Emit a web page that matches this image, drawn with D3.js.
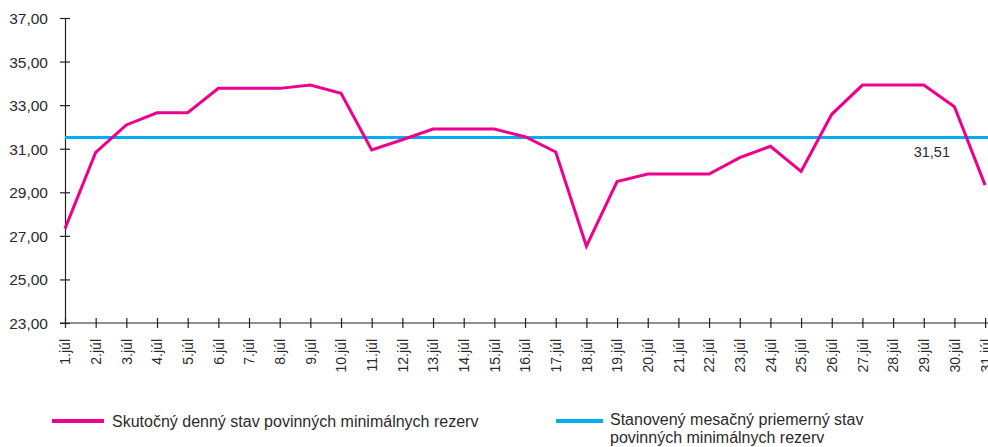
<!DOCTYPE html>
<html>
<head>
<meta charset="utf-8">
<script src="https://cdn.jsdelivr.net/npm/d3@7"></script>
<style>
  body { margin: 0; background: #fff; }
  svg text { font-family: "Liberation Sans", Arial, sans-serif; fill: #2b2b2b; }
</style>
</head>
<body>
<div id="chart"></div>
<script>
// days of July
const days = d3.range(1, 32).map(d => `${d}.júl`);

// actual daily state of minimum reserves
const actual = [
  27.33, 30.83, 32.09, 32.65, 32.65, 33.77, 33.77, 33.77, 33.92, 33.54,
  30.94, 31.41, 31.90, 31.90, 31.90, 31.55, 30.85, 26.53, 29.49, 29.84,
  29.84, 29.84, 30.59, 31.11, 29.96, 32.58, 33.92, 33.92, 33.92, 32.93,
  29.33
];

// required monthly average
const required = 31.51;

const yTicks = [23, 25, 27, 29, 31, 33, 35, 37];

const legendLabels = [
  ["Skutočný denný stav povinných minimálnych rezerv"],
  ["Stanovený mesačný priemerný stav", "povinných minimálnych rezerv"]
];

const colors = { actual: "#ec008c", required: "#00aeef" };

const W = 988, H = 447;
const margin = { top: 18, right: 3, bottom: 124, left: 65 };

const svg = d3.select("#chart").append("svg")
  .attr("width", W)
  .attr("height", H);

const x = d3.scalePoint()
  .domain(days)
  .range([margin.left, margin.left + 30 * 30.67]);

const y = d3.scaleLinear()
  .domain([23, 37])
  .range([H - margin.bottom, margin.top]);

const fmt = v => d3.format(".2f")(v).replace(".", ",");

// y axis
const yAxis = svg.append("g")
  .attr("transform", `translate(${margin.left},0)`)
  .call(d3.axisLeft(y).tickValues(yTicks).tickFormat(fmt).tickSizeInner(5).tickSizeOuter(0).tickPadding(12));
yAxis.select(".domain").attr("stroke", "#222").attr("stroke-width", 1.2);
yAxis.selectAll(".tick line").attr("x2", 5).attr("x1", -5).attr("stroke", "#222").attr("stroke-width", 1.2);
yAxis.selectAll(".tick text").attr("font-size", 15.5).attr("dy", "0.35em");

// x axis
const xAxis = svg.append("g")
  .attr("transform", `translate(0,${y(23)})`)
  .call(d3.axisBottom(x).tickSizeInner(5).tickSizeOuter(0));
xAxis.select(".domain").attr("d", `M${margin.left - 5},0H${W}`).attr("stroke", "#222").attr("stroke-width", 1.2);
xAxis.selectAll(".tick line").attr("y1", -5).attr("y2", 5).attr("stroke", "#222").attr("stroke-width", 1.2);
xAxis.selectAll(".tick text")
  .attr("font-size", 14)
  .attr("text-anchor", "end")
  .attr("transform", "rotate(-90)")
  .attr("x", -16)
  .attr("y", 0)
  .attr("dy", "0.35em");

// required level line
svg.append("line")
  .attr("x1", margin.left)
  .attr("x2", W)
  .attr("y1", y(required))
  .attr("y2", y(required))
  .attr("stroke", colors.required)
  .attr("stroke-width", 3);

svg.append("text")
  .attr("x", 950)
  .attr("y", y(required) + 19)
  .attr("text-anchor", "end")
  .attr("font-size", 14.5)
  .text(fmt(required));

// actual line
const line = d3.line()
  .x((d, i) => x(days[i]))
  .y(d => y(d));

svg.append("path")
  .datum(actual)
  .attr("fill", "none")
  .attr("stroke", colors.actual)
  .attr("stroke-width", 3)
  .attr("stroke-linejoin", "miter")
  .attr("d", line);

// legend
const legend = svg.append("g");
const l1 = legend.append("g").attr("transform", "translate(52,421)");
l1.append("line").attr("x1", 0).attr("x2", 52).attr("stroke", colors.actual).attr("stroke-width", 4);
l1.append("text").attr("x", 60).attr("y", 6).attr("font-size", 16).text(legendLabels[0][0]);

const l2 = legend.append("g").attr("transform", "translate(556,421)");
l2.append("line").attr("x1", 0).attr("x2", 47).attr("stroke", colors.required).attr("stroke-width", 4);
l2.selectAll("text").data(legendLabels[1]).join("text")
  .attr("x", 54)
  .attr("y", (d, i) => 4 + i * 18)
  .attr("font-size", 16)
  .text(d => d);
</script>
</body>
</html>
